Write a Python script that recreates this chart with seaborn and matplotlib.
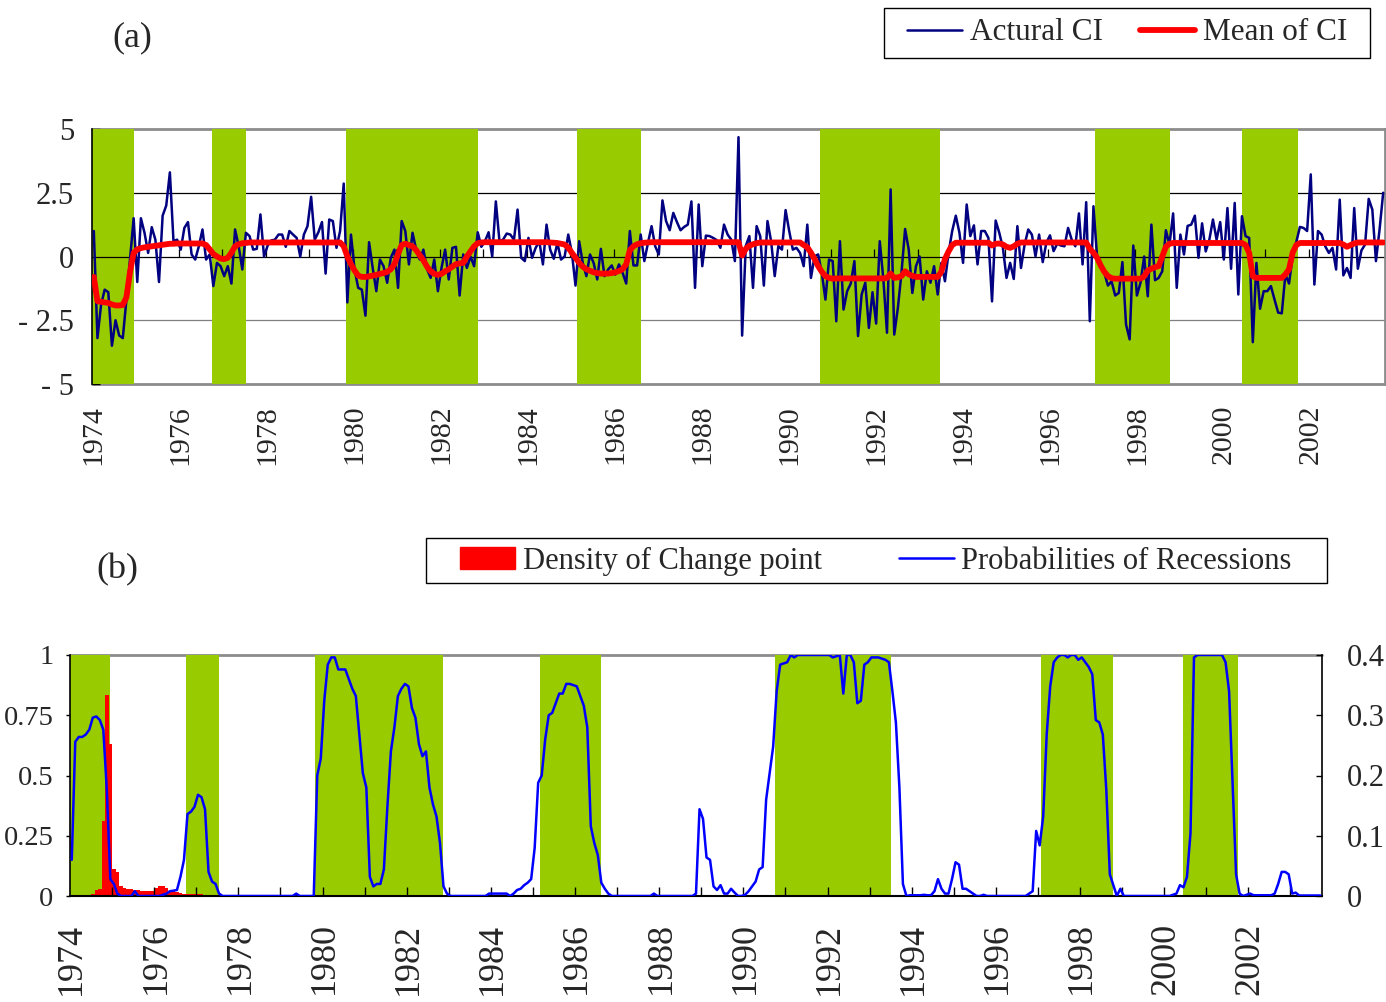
import matplotlib

matplotlib.use("Agg")
import matplotlib.pyplot as plt
import numpy as np
import seaborn as sns
from matplotlib.lines import Line2D
from matplotlib.patches import Patch, Rectangle

sns.set_theme(style="white")
plt.rcParams["font.family"] = ["Liberation Serif", "DejaVu Serif"]

# ---------------------------------------------------------------------------
# datos (mensuales, desde 1974)
# ---------------------------------------------------------------------------
YEAR_LABELS = [str(y) for y in range(1974, 2004, 2)]

# recesiones (en indice de mes, bordes de las bandas verdes)
REC_START = [-0.5, 32.5, 69.5, 133.5, 200.5, 276.5, 317.0]
REC_END = [11.0, 42.0, 106.0, 151.0, 233.5, 297.0, 332.5]

actual_ci = [
    1.0, -3.2, -1.9, -1.3, -1.4, -3.5, -2.5, -3.1, -3.2, -1.7,
    -0.1, 1.5, -1.0, 1.5, 0.93, 0.14, 1.15, 0.66, -1.0, 1.6,
    2.0, 3.3, 0.6, 0.66, 0.27, 1.12, 1.35, 0.08, -0.12, 0.4,
    1.06, -0.12, 0.08, -1.16, -0.25, -0.38, -0.77, -0.38, -1.06, 1.06,
    0.4, -0.51, 0.93, 0.8, 0.27, 0.3, 1.65, 0.0, 0.43, 0.63,
    0.66, 0.86, 0.86, 0.38, 1.0, 0.86, 0.73, 0.0, 0.86, 1.19,
    2.34, 0.66, 0.95, 1.35, -0.67, 1.45, 1.39, 0.34, 1.0, 2.86,
    -1.8, 0.86, -0.51, -1.23, -1.3, -2.32, 0.56, -0.45, -1.36, -0.12,
    -0.38, -1.03, -0.05, 0.27, -1.23, 1.39, 1.0, -0.31, 0.93, 0.27,
    -0.12, 0.27, -0.5, -0.84, -0.12, -1.36, -0.45, 0.27, -0.9, 0.34,
    0.38, -1.53, 0.08, -0.45, 0.0, -0.38, 0.95, 0.38, 0.6, 0.95,
    0.0, 2.16, 0.6, 0.66, 0.9, 0.86, 0.66, 1.84, -0.05, -0.18,
    0.73, -0.05, 0.34, 0.6, -0.31, 1.25, 0.27, -0.09, 0.53, -0.12,
    0.0, 0.86, 0.14, -1.14, 0.6, -0.25, -0.77, 0.08, -0.25, -0.9,
    0.3, -0.77, -0.51, -0.35, -0.71, -0.31, -0.64, -1.06, 1.0, -0.35,
    -0.35, 0.86, -0.18, 0.53, 1.19, 0.4, 0.08, 2.2, 1.39, 1.03,
    1.71, 1.35, 1.03, 1.16, 1.25, 2.16, -1.23, 2.04, -0.38, 0.82,
    0.8, 0.73, 0.64, 0.34, 1.25, 0.86, 0.66, -0.18, 4.68, -3.1,
    0.41, 0.8, -1.23, 1.19, 0.8, -1.14, 1.39, 0.6, -0.77, 0.41,
    0.27, 1.82, 1.0, 0.27, 0.34, 0.14, -0.38, 1.25, -0.84, 0.01,
    0.08, -0.64, -1.69, -0.12, -0.18, -2.54, 0.6, -2.08, -1.36, -1.06,
    -0.18, -3.12, -1.49, -1.03, -2.8, -1.4, -2.63, 0.6, -0.9, -2.99,
    2.63, -3.06, -2.02, -0.64, 1.08, 0.27, -1.43, -0.38, 0.0, -1.69,
    -0.58, -1.03, -0.38, -1.49, -0.25, -0.97, 0.14, 1.0, 1.6, 0.93,
    -0.25, 2.04, 0.8, 1.22, -0.31, 1.0, 1.0, 0.73, -1.76, 1.41,
    0.93, 0.34, -0.84, -0.25, -0.88, 1.19, -0.45, 0.47, 1.06, 0.86,
    0.01, 0.86, -0.22, 0.54, 0.83, 0.21, 0.5,
    0.43, 0.4, 1.12, 0.66, 0.4, 1.69, -0.31, 2.13, -2.54, 1.97,
    0.0, -0.25, -0.64, -1.14, -0.97, -1.53, -1.43, -0.22, -2.67, -3.25,
    0.43, -1.53, -1.03, 0.0, -1.56, 1.25, -0.93, -0.84, -0.58, 1.03,
    0.47, 1.69, -1.23, 0.86, 0.08, 1.2, 1.25, 1.6, -0.05, 1.3,
    0.2, 0.66, 1.45, 0.66, 1.35, -0.12, 1.9, -0.48, 2.1, -1.49,
    1.58, 0.8, 0.73, -3.36, -0.25, -2.05, -1.36, -1.36, -1.16, -1.69,
    -2.2, -2.23, -0.7, -1.06, 0.0, 0.56, 1.16, 1.12, 1.0, 3.22,
    -1.1, 1.0, 0.86, 0.4, 0.14, 0.34, -0.51, 2.23, -0.74, -0.45,
    -0.84, 1.9, -0.48, 0.24, 0.47, 2.26, 1.84, -0.18, 1.06, 2.5,
]

# una fila = un anio (12 meses)
mean_ci = [
    -0.8, -1.75, -1.78, -1.8, -1.82, -1.88, -1.92, -1.92, -1.9, -1.6, -0.6, 0.14,
    0.28, 0.33, 0.36, 0.38, 0.4, 0.42, 0.44, 0.46, 0.48, 0.5, 0.5, 0.51,
    0.51, 0.51, 0.51, 0.51, 0.51, 0.51, 0.51, 0.45, 0.28, 0.1, 0.0, -0.08,
    -0.1, -0.05, 0.15, 0.4, 0.48, 0.52, 0.53, 0.55, 0.55, 0.55, 0.55, 0.55,
    0.55, 0.55, 0.55, 0.55, 0.55, 0.55, 0.55, 0.55, 0.55, 0.55, 0.55, 0.55,
    0.55, 0.55, 0.55, 0.55, 0.55, 0.55, 0.55, 0.55, 0.55, 0.4, 0.0, -0.3,
    -0.55, -0.75, -0.8, -0.8, -0.78, -0.75, -0.72, -0.68, -0.65, -0.6, -0.5, -0.3,
    0.1, 0.45, 0.5, 0.45, 0.4, 0.25, 0.05, -0.15, -0.4, -0.58, -0.68, -0.72,
    -0.68, -0.58, -0.5, -0.4, -0.3, -0.27, -0.25, 0.0, 0.2, 0.4, 0.52, 0.55,
    0.56, 0.56, 0.56, 0.56, 0.56, 0.56, 0.56, 0.56, 0.56, 0.56, 0.56, 0.56,
    0.56, 0.56, 0.56, 0.56, 0.56, 0.56, 0.55, 0.54, 0.53, 0.5, 0.47, 0.35,
    0.14, -0.05, -0.25, -0.4, -0.5, -0.56, -0.62, -0.65, -0.67, -0.67, -0.67, -0.65,
    -0.62, -0.57, -0.5, -0.3, 0.25, 0.4, 0.48, 0.52, 0.54, 0.55, 0.56, 0.56,
    0.56, 0.56, 0.56, 0.56, 0.56, 0.56, 0.56, 0.56, 0.56, 0.56, 0.56, 0.56,
    0.56, 0.56, 0.56, 0.56, 0.56, 0.56, 0.56, 0.56, 0.56, 0.56, 0.56, 0.04,
    0.3, 0.42, 0.48, 0.52, 0.55, 0.55, 0.55, 0.55, 0.55, 0.55, 0.55, 0.55,
    0.55, 0.55, 0.55, 0.55, 0.45, 0.36, 0.15, -0.1, -0.38, -0.6, -0.77, -0.84,
    -0.87, -0.86, -0.86, -0.86, -0.86, -0.86, -0.86, -0.86, -0.86, -0.86, -0.86, -0.86,
    -0.86, -0.86, -0.86, -0.84, -0.67, -0.84, -0.82, -0.77, -0.58, -0.7, -0.76, -0.8,
    -0.8, -0.8, -0.8, -0.8, -0.8, -0.8, -0.6, -0.1, 0.2, 0.45, 0.54, 0.54,
    0.54, 0.54, 0.54, 0.54, 0.54, 0.54, 0.54, 0.54, 0.43, 0.5, 0.51, 0.47,
    0.38, 0.34, 0.4, 0.5, 0.55, 0.55, 0.55, 0.55, 0.55, 0.55, 0.55, 0.55,
    0.55, 0.55, 0.55, 0.55, 0.55, 0.55, 0.55, 0.55, 0.55, 0.55, 0.55, 0.3,
    0.15, -0.05, -0.35, -0.6, -0.77, -0.85, -0.87, -0.87, -0.87, -0.87, -0.87, -0.87,
    -0.87, -0.87, -0.78, -0.55, -0.48, -0.42, -0.38, 0.0, 0.38, 0.5, 0.53, 0.53,
    0.53, 0.53, 0.53, 0.53, 0.53, 0.53, 0.53, 0.53, 0.53, 0.53, 0.53, 0.53,
    0.53, 0.53, 0.53, 0.53, 0.53, 0.53, 0.45, 0.14, -0.77, -0.84, -0.84, -0.84,
    -0.84, -0.84, -0.84, -0.84, -0.84, -0.7, -0.5, 0.15, 0.45, 0.53, 0.53, 0.53,
    0.53, 0.53, 0.53, 0.53, 0.53, 0.53, 0.53, 0.53, 0.53, 0.47, 0.38, 0.45,
    0.51, 0.55, 0.55, 0.55, 0.55, 0.55, 0.55, 0.55, 0.55,
]

prob_recession = [
    0.15, 0.64, 0.66, 0.66, 0.67, 0.69, 0.74, 0.745, 0.73, 0.69, 0.44, 0.07,
    0.05, 0.01, 0.0, 0.0, 0.0, 0.0, 0.02, 0.0, 0.0, 0.0, 0.0, 0.0,
    0.0, 0.0, 0.005, 0.01, 0.02, 0.022, 0.025, 0.08, 0.15, 0.34, 0.35, 0.37,
    0.42, 0.41, 0.36, 0.1, 0.06, 0.05, 0.01, 0.0, 0.0, 0.0, 0.0, 0.0,
    0.0, 0.0, 0.0, 0.0, 0.0, 0.0, 0.0, 0.0, 0.0, 0.0, 0.0, 0.0,
    0.0, 0.0, 0.0, 0.0, 0.01, 0.0, 0.0, 0.0, 0.0, 0.0, 0.5, 0.57,
    0.81, 0.96, 0.99, 0.99, 0.94, 0.94, 0.94, 0.9, 0.86, 0.83, 0.67, 0.51,
    0.45, 0.08, 0.04, 0.05, 0.05, 0.11, 0.37, 0.6, 0.7, 0.83, 0.86, 0.88,
    0.87, 0.78, 0.74, 0.63, 0.58, 0.6, 0.45, 0.38, 0.33, 0.22, 0.04, 0.01,
    0.0, 0.0, 0.0, 0.0, 0.0, 0.0, 0.0, 0.0, 0.0, 0.0, 0.0, 0.01,
    0.01, 0.01, 0.01, 0.01, 0.01, 0.0, 0.01, 0.025, 0.03, 0.045, 0.055, 0.07,
    0.2, 0.47, 0.5, 0.65, 0.75, 0.76, 0.8, 0.84, 0.84, 0.88, 0.88, 0.875,
    0.87, 0.83, 0.79, 0.7, 0.29, 0.22, 0.17, 0.055, 0.03, 0.01, 0.0, 0.0,
    0.0, 0.0, 0.0, 0.0, 0.0, 0.0, 0.0, 0.0, 0.0, 0.0, 0.01, 0.0,
    0.0, 0.0, 0.0, 0.0, 0.0, 0.0, 0.0, 0.0, 0.0, 0.0, 0.01, 0.36,
    0.32, 0.16, 0.15, 0.04, 0.025, 0.045, 0.01, 0.01, 0.03, 0.014, 0.0, 0.0,
    0.005, 0.02, 0.04, 0.06, 0.11, 0.12, 0.4, 0.51, 0.62, 0.85, 0.96, 0.965,
    0.97, 1.0, 0.99, 1.0, 1.0, 1.0, 1.0, 1.0, 1.0, 1.0, 1.0, 1.0,
    1.0, 0.99, 0.995, 1.0, 0.84, 1.0, 1.0, 0.97, 0.8, 0.81, 0.96, 0.97,
    0.99, 0.99, 0.99, 0.985, 0.98, 0.97, 0.85, 0.72, 0.45, 0.05, 0.0, 0.003,
    0.003, 0.003, 0.003, 0.005, 0.003, 0.003, 0.02, 0.07, 0.03, 0.01, 0.01, 0.07,
    0.14, 0.13, 0.03, 0.03, 0.02, 0.01, 0.0, 0.0, 0.005, 0.0, 0.0, 0.0,
    0.0, 0.0, 0.0, 0.0, 0.0, 0.0, 0.0, 0.0, 0.0, 0.01, 0.02, 0.27,
    0.21, 0.33, 0.67, 0.87, 0.97, 0.99, 1.0, 1.0, 0.99, 1.0, 1.0, 0.98,
    0.99, 0.97, 0.95, 0.92, 0.73, 0.72, 0.67, 0.44, 0.09, 0.045, 0.0, 0.03,
    0.0, 0.0, 0.0, 0.0, 0.0, 0.0, 0.0, 0.0, 0.0, 0.0, 0.0, 0.0,
    0.0, 0.0, 0.005, 0.01, 0.045, 0.036, 0.08, 0.26, 0.99, 1.0, 1.0, 1.0,
    1.0, 1.0, 1.0, 1.0, 1.0, 0.97, 0.85, 0.47, 0.09, 0.01, 0.0, 0.005,
    0.01, 0.003, 0.003, 0.003, 0.003, 0.003, 0.003, 0.01, 0.05, 0.1, 0.1, 0.09,
    0.01, 0.014, 0.002, 0.002, 0.002, 0.002, 0.002, 0.002, 0.002,
]

# densidad del punto de cambio (eje derecho); despues de 1977 es cero
density_head = [
    0.0, 0.001, 0.002, 0.002, 0.001, 0.001, 0.004, 0.01, 0.012, 0.124, 0.334, 0.252,
    0.044, 0.04, 0.016, 0.014, 0.012, 0.012, 0.01, 0.01, 0.008, 0.008, 0.008, 0.008,
    0.014, 0.016, 0.016, 0.014, 0.008, 0.008, 0.006, 0.005, 0.004, 0.003, 0.003, 0.003,
    0.003, 0.003, 0.002, 0.002, 0.002, 0.001, 0.001, 0.001, 0.001, 0.001, 0.001, 0.001,
]

N = len(actual_ci)
density_cp = density_head + [0.0] * (N - len(density_head))
months = np.arange(N)

GREEN = "#99CC00"
NAVY = "#000080"
BLUE = "#0000FF"
GRIS = "#8c8c8c"

W, H = 1386, 1002
fig = plt.figure(figsize=(W / 100, H / 100), dpi=100)

# ---------------------------------------------------------------------------
# (a) CI real y media
# ---------------------------------------------------------------------------
ax_a = fig.add_axes([92 / W, 1 - 384 / H, 1293 / W, 255 / H])
for s, e in zip(REC_START, REC_END):
    ax_a.axvspan(s, e, color=GREEN, lw=0, zorder=1)
ax_a.axhline(5, color=GRIS, lw=2, zorder=0.5, clip_on=False)
ax_a.axhline(-5, color=GRIS, lw=2, zorder=0.5, clip_on=False)
ax_a.axhline(2.5, color="black", lw=0.9, zorder=0.5)
ax_a.axhline(-2.5, color="#808080", lw=0.9, zorder=0.5)
ax_a.axhline(0, color="black", lw=0.9, zorder=2)
ax_a.vlines(np.arange(11.5, N, 12), 0, 0.3, color="black", lw=0.9, zorder=2)

sns.lineplot(x=months, y=actual_ci, ax=ax_a, color=NAVY, lw=1.8,
             estimator=None, sort=False, zorder=3)
sns.lineplot(x=months, y=mean_ci, ax=ax_a, color="red", lw=4.2,
             estimator=None, sort=False, zorder=4)

ax_a.set_xlim(-0.5, N - 0.5)
ax_a.set_ylim(-5, 5)
ax_a.set_yticks([-5, -2.5, 0, 2.5, 5])
ax_a.set_yticklabels(["- 5", "- 2.5", "0", "2.5", "5"])
ax_a.set_xticks(months[::24])
ax_a.set_xticklabels(YEAR_LABELS, rotation=90)
ax_a.set_xlabel("")
ax_a.set_ylabel("")
ax_a.tick_params(axis="x", length=0, pad=15, labelsize=21.5)
ax_a.tick_params(axis="y", direction="in", length=6, width=1, pad=13,
                 labelsize=22, left=True, color="black")
for side in ["top", "bottom"]:
    ax_a.spines[side].set_visible(False)
ax_a.spines["right"].set_color(GRIS)
ax_a.spines["right"].set_linewidth(2)
ax_a.spines["left"].set_color("black")
ax_a.spines["left"].set_linewidth(1.2)

# ---------------------------------------------------------------------------
# (b) densidad del punto de cambio y probabilidad de recesion
# ---------------------------------------------------------------------------
rect_b = [70 / W, 1 - 896 / H, 1252 / W, 241 / H]
ax_b = fig.add_axes(rect_b)
ax_b2 = ax_b.twinx()
ax_b2.set_zorder(1)
ax_b.set_zorder(2)
ax_b.patch.set_visible(False)
ax_b2.patch.set_visible(True)
ax_b2.patch.set_facecolor("white")

for s, e in zip(REC_START, REC_END):
    ax_b2.axvspan(s, e, color=GREEN, lw=0, zorder=1)
ax_b2.axhline(0.4, color=GRIS, lw=2, zorder=0.5, clip_on=False)
ax_b2.bar(months, density_cp, width=1.0, color="red", lw=0, zorder=2)
ax_b2.set_ylim(0, 0.4)
ax_b2.set_yticks([0, 0.1, 0.2, 0.3, 0.4])
ax_b2.set_yticklabels(["0", "0.1", "0.2", "0.3", "0.4"])
ax_b2.tick_params(axis="y", direction="in", length=4, width=1, pad=18,
                  labelsize=22, right=True, color="black")

sns.lineplot(x=months, y=prob_recession, ax=ax_b, color=BLUE, lw=1.8,
             estimator=None, sort=False, zorder=3)
ax_b.set_xlim(-0.5, N - 0.5)
ax_b.set_ylim(0, 1)
ax_b.set_yticks([0, 0.25, 0.5, 0.75, 1])
ax_b.set_yticklabels(["0", "0.25", "0.5", "0.75", "1"])
ax_b.set_xticks(months[::24])
ax_b.set_xticklabels(YEAR_LABELS, rotation=90)
ax_b.set_xticks(np.arange(11.5, N, 12), minor=True)
ax_b.set_xlabel("")
ax_b.set_ylabel("")
ax_b.tick_params(axis="x", which="major", length=0, pad=19, labelsize=26)
ax_b.tick_params(axis="x", which="minor", direction="in", length=6.5,
                 width=1, bottom=True, color="black")
ax_b.tick_params(axis="y", direction="out", length=3, width=1, pad=9,
                 labelsize=20.5, left=True, color="black")

for a in (ax_b, ax_b2):
    a.spines["top"].set_visible(False)
ax_b.spines["right"].set_visible(False)
ax_b2.spines["left"].set_visible(False)
ax_b2.spines["bottom"].set_visible(False)
ax_b2.spines["right"].set_color("black")
ax_b2.spines["right"].set_linewidth(1.2)
ax_b.spines["left"].set_color("black")
ax_b.spines["left"].set_linewidth(1.2)
ax_b.spines["bottom"].set_color("black")
ax_b.spines["bottom"].set_linewidth(1.5)

# ---------------------------------------------------------------------------
# leyendas y etiquetas de panel
# ---------------------------------------------------------------------------
fig.add_artist(Rectangle((884 / W, 1 - 58 / H), 486 / W, 50 / H,
                         transform=fig.transFigure, fill=False,
                         ec="black", lw=1))
fig.legend(
    [Line2D([], [], color=NAVY, lw=1.8), Line2D([], [], color="red", lw=4.2)],
    ["Actural CI", "Mean of CI"],
    loc="center", bbox_to_anchor=(1127 / W, 1 - 33 / H), ncol=2,
    frameon=False, fontsize=22.5, handlelength=1.75, handletextpad=0.25,
    columnspacing=1.2,
)

fig.add_artist(Rectangle((426 / W, 1 - 583 / H), 901 / W, 45 / H,
                         transform=fig.transFigure, fill=False,
                         ec="black", lw=1))
fig.legend(
    [Patch(color="red"), Line2D([], [], color=BLUE, lw=1.8)],
    ["Density of Change point", "Probabilities of Recessions"],
    loc="center", bbox_to_anchor=(876 / W, 1 - 561 / H), ncol=2,
    frameon=False, fontsize=22, handlelength=1.8, handletextpad=0.25,
    columnspacing=2.5,
)

fig.text(132 / W, 1 - 38 / H, "(a)", fontsize=26, ha="center", va="center")
fig.text(117 / W, 1 - 570 / H, "(b)", fontsize=26, ha="center", va="center")

fig.savefig("out.png", dpi=100)
plt.close(fig)
